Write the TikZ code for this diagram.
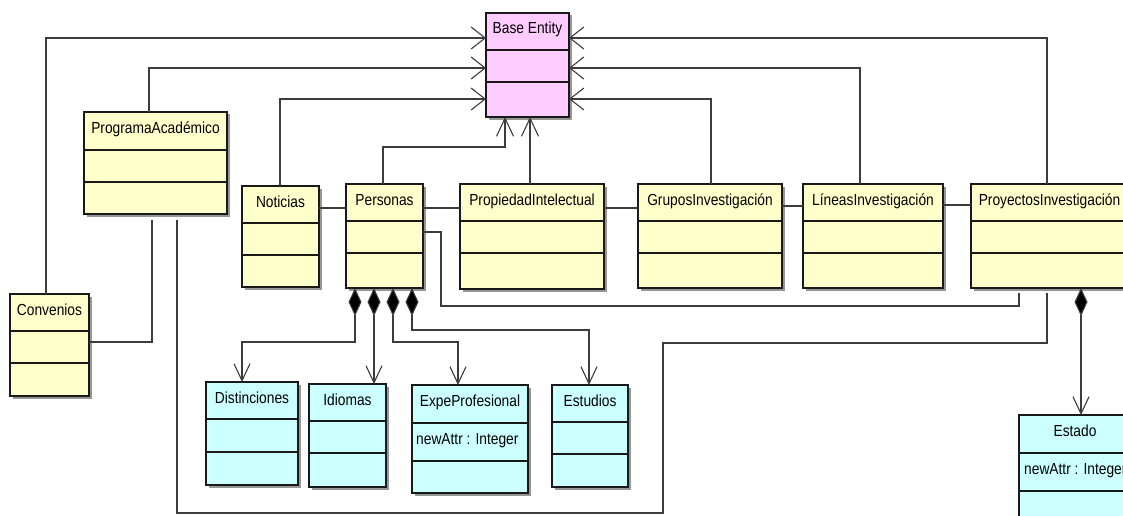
\documentclass[tikz,border=0pt]{standalone}
\usepackage{fontspec}
\setmainfont[FakeStretch=0.86]{Liberation Sans}
\usetikzlibrary{arrows.meta,calc}

\definecolor{clsyellow}{RGB}{255,255,204}
\definecolor{clscyan}{RGB}{204,255,255}
\definecolor{clspink}{RGB}{255,204,255}
\definecolor{wire}{RGB}{60,60,60}
\definecolor{shadecol}{RGB}{150,150,150}

\tikzset{
  clsbox/.style={draw=black!90, line width=1.2pt, inner sep=0pt, outer sep=0pt, rectangle},
  clsline/.style={draw=black!90, line width=1.2pt},
  clstitle/.style={anchor=base, inner sep=0pt, text=black, font=\fontsize{16}{19}\selectfont},
  clsattr/.style={anchor=base west, inner sep=0pt, text=black, font=\fontsize{16}{19}\selectfont},
  assoc/.style={draw=wire, line width=1.1pt},
  hinh/.style={assoc, -{Straight Barb[length=14pt,width=22pt,line width=1.1pt]}},
  vinh/.style={assoc, -{Straight Barb[length=18pt,width=17pt,line width=1.1pt]}},
  comp/.style={assoc, {Diamond[length=28pt,width=13pt,fill=black]}-{Straight Barb[length=17pt,width=16pt,line width=1.1pt]}},
}

% \umlclass{name}{x1}{y1}{x2}{y2}{divider1}{divider2}{fill}{title}
\newcommand\umlclass[9]{%
  \fill[shadecol] (#2+2.5,#3+2.5) rectangle (#4+2.5,#5+2.5);
  \pgfmathsetmacro\clsw{#4-#2}%
  \pgfmathsetmacro\clsh{#5-#3}%
  \node[clsbox, fill=#8, minimum width=\clsw pt, minimum height=\clsh pt, anchor=north west] (#1) at (#2,#3) {};
  \draw[clsline] (#2,#6) -- (#4,#6) (#2,#7) -- (#4,#7);
  \node[clstitle] (#1-t) at ($(#1.north)+(0,21)$) {#9};
}

\begin{document}
\begin{tikzpicture}[x=1pt,y=-1pt]
\path[use as bounding box, clip] (0,0) rectangle (1123,516);
\fill[white] (0,0) rectangle (1123,516);

% classes
\umlclass{base}{486}{13}{569}{117}{50}{82}{clspink}{Base Entity}
\umlclass{prog}{84}{112}{227}{214}{150}{182}{clsyellow}{ProgramaAcadémico}
\umlclass{conv}{10}{294}{89}{396}{331}{363}{clsyellow}{Convenios}
\umlclass{noti}{242}{186}{319}{287}{223}{255}{clsyellow}{Noticias}
\umlclass{pers}{346}{184}{423}{288}{221}{253}{clsyellow}{Personas}
\umlclass{prop}{460}{184}{604}{289}{221}{253}{clsyellow}{PropiedadIntelectual}
\umlclass{grup}{638}{184}{782}{288}{221}{253}{clsyellow}{GruposInvestigación}
\umlclass{line}{803}{184}{943}{288}{221}{253}{clsyellow}{LíneasInvestigación}
\umlclass{proy}{971}{184}{1128}{288}{221}{253}{clsyellow}{ProyectosInvestigación}
\umlclass{dist}{206}{382}{298}{485}{419}{452}{clscyan}{Distinciones}
\umlclass{idio}{309}{384}{386}{487}{421}{453}{clscyan}{Idiomas}
\umlclass{expe}{412}{385}{528}{493}{423}{461}{clscyan}{ExpeProfesional}
\umlclass{estu}{552}{385}{628}{487}{422}{454}{clscyan}{Estudios}
\umlclass{esta}{1019}{415}{1131}{535}{453}{491}{clscyan}{Estado}

% attributes
\node[clsattr] (expe-a) at (416,444) {newAttr : Integer};
\node[clsattr] (esta-a) at (1024,474) {newAttr : Integer};

% generalisations towards Base Entity
\draw[hinh] (conv.north -| 46,0) |- (base.west |- 0,38);
\draw[hinh] (prog.north -| 149,0) |- (base.west |- 0,68);
\draw[hinh] (noti.north -| 280,0) |- (base.west |- 0,99);
\draw[vinh] (pers.north -| 383,0) -- (383,147) -| (base.south -| 505,0);
\draw[vinh] (prop.north -| 530,0) -- (base.south -| 530,0);
\draw[hinh] (grup.north -| 711,0) |- (base.east |- 0,99);
\draw[hinh] (line.north -| 860,0) |- (base.east |- 0,68);
\draw[hinh] (proy.north -| 1047,0) |- (base.east |- 0,38);

% associations
\draw[assoc] (noti.east |- 0,208) -- (pers.west |- 0,208);
\draw[assoc] (pers.east |- 0,208) -- (prop.west |- 0,208);
\draw[assoc] (prop.east |- 0,208) -- (grup.west |- 0,208);
\draw[assoc] (grup.east |- 0,206) -- (line.west |- 0,206);
\draw[assoc] (line.east |- 0,205) -- (proy.west |- 0,205);
\draw[assoc] (pers.east |- 0,232) -| (441,306) -| ($(proy.south -| 1019,0)+(0,5)$);
\draw[assoc] ($(prog.south -| 152,0)+(0,6)$) |- (conv.east |- 0,342);
\draw[assoc] ($(prog.south -| 177,0)+(0,6)$) |- (663,513) |- (1047,343)
  -- ($(proy.south -| 1047,0)+(0,5)$);

% compositions
\draw[comp] (pers.south -| 355,0) -- (355,342) -| (dist.north -| 242,0);
\draw[comp] (pers.south -| 374,0) -- (idio.north -| 374,0);
\draw[comp] (pers.south -| 393,0) -- (393,342) -| (expe.north -| 458,0);
\draw[comp] (pers.south -| 412,0) -- (412,330) -| (estu.north -| 589,0);
\draw[comp] (proy.south -| 1081,0) -- (esta.north -| 1081,0);
\end{tikzpicture}
\end{document}
